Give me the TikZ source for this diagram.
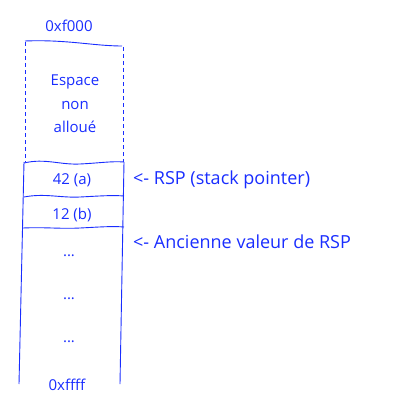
\documentclass[tikz,border=0pt]{standalone}
\usepackage{fontspec}
\setmainfont{Open Sans}
\definecolor{ink}{RGB}{25,45,255}
\begin{document}
\begin{tikzpicture}[x=1pt,y=-1pt,
  lbl/.style={text=ink,font=\fontsize{15}{17}\selectfont,inner sep=0pt},
  side/.style={text=ink,font=\fontsize{18}{20}\selectfont,inner sep=0pt,anchor=west},
  stroke/.style={draw=ink,line width=0.9pt},
  dashline/.style={draw=ink,line width=1pt,dash pattern=on 4pt off 3pt}]
\useasboundingbox (0,0) rectangle (400,412);
% top wavy line
\draw[stroke] (25,41) .. controls (50,40) and (70,42) .. (90,44) .. controls (105,45.5) and (115,46) .. (122,46);
% dashed sides
\draw[dashline] (25,42) -- (25,162);
\draw[dashline] (123,47) -- (123,162);
% separators
\draw[stroke] (24,163) .. controls (45,158) and (60,165) .. (80,164) .. controls (100,163) and (112,161) .. (124,162);
\draw[stroke] (24,197) .. controls (45,193) and (60,198) .. (80,197) .. controls (100,196) and (112,195) .. (124,196);
\draw[stroke] (23,228) .. controls (45,227) and (60,229) .. (80,228) .. controls (100,227) and (112,226) .. (124,227);
% solid sides
\draw[stroke] (24,162) -- (19,384);
\draw[stroke] (124,162) -- (120,384);
% texts
\node[lbl] (top) at (69,26) {0xf000};
\node[lbl,align=center] (esp) at (75,104) {Espace\\[6.5pt]non\\[6.5pt]alloué};
\node[lbl] (a) at (72,180) {42 (a)};
\node[lbl] (b) at (72,215) {12 (b)};
\node[lbl] (d1) at (69,256) {...};
\node[lbl] (d2) at (69,299) {...};
\node[lbl] (d3) at (69,342) {...};
\node[lbl] (bot) at (67,385) {0xffff};
\node[side] (rsp) at (133,180) {<- RSP (stack pointer)};
\node[side] (old) at (133,242) {<- Ancienne valeur de RSP};
\end{tikzpicture}
\end{document}
